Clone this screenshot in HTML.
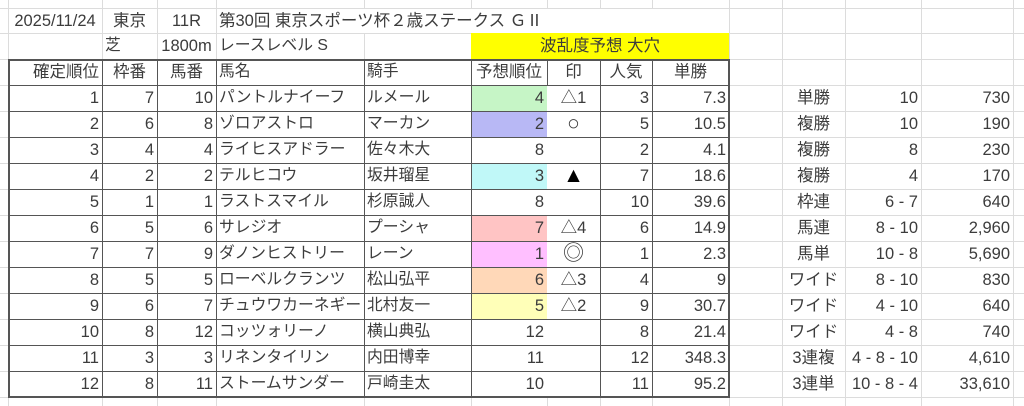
<!DOCTYPE html>
<html><head><meta charset="utf-8"><style>
body{margin:0;width:1024px;height:406px;overflow:hidden;background:#fff;position:relative;font-family:"Liberation Sans","Noto Sans CJK JP",sans-serif;font-size:16.5px;color:#3c3c3c}
.g{position:absolute;background:#dcdcdc}
.d{position:absolute;background:#555}
.c{position:absolute;height:26px;line-height:26px;white-space:nowrap;box-sizing:border-box}
.r{text-align:right;padding-right:3px}
.m{text-align:center}
.l{padding-left:3px;font-size:15.8px}
.f{position:absolute}
.big{font-size:21px}
</style></head><body>
<div class="g" style="left:8px;top:0;width:1px;height:406px"></div>
<div class="g" style="left:102px;top:0;width:1px;height:406px"></div>
<div class="g" style="left:157px;top:0;width:1px;height:406px"></div>
<div class="g" style="left:216px;top:0;width:1px;height:406px"></div>
<div class="g" style="left:364px;top:0;width:1px;height:8px"></div>
<div class="g" style="left:364px;top:33px;width:1px;height:373px"></div>
<div class="g" style="left:471px;top:0;width:1px;height:8px"></div>
<div class="g" style="left:471px;top:59px;width:1px;height:347px"></div>
<div class="g" style="left:547px;top:0;width:1px;height:8px"></div>
<div class="g" style="left:547px;top:397px;width:1px;height:9px"></div>
<div class="g" style="left:600px;top:0;width:1px;height:8px"></div>
<div class="g" style="left:600px;top:59px;width:1px;height:347px"></div>
<div class="g" style="left:652px;top:0;width:1px;height:8px"></div>
<div class="g" style="left:652px;top:59px;width:1px;height:347px"></div>
<div class="g" style="left:729px;top:0;width:1px;height:406px"></div>
<div class="g" style="left:782px;top:0;width:1px;height:406px"></div>
<div class="g" style="left:845px;top:0;width:1px;height:406px"></div>
<div class="g" style="left:921px;top:0;width:1px;height:406px"></div>
<div class="g" style="left:1013px;top:0;width:1px;height:406px"></div>
<div class="g" style="left:0;top:8px;width:1024px;height:1px"></div>
<div class="g" style="left:0;top:33px;width:1024px;height:1px"></div>
<div class="g" style="left:0;top:59px;width:1024px;height:1px"></div>
<div class="g" style="left:0;top:85px;width:1024px;height:1px"></div>
<div class="g" style="left:0;top:111px;width:1024px;height:1px"></div>
<div class="g" style="left:0;top:137px;width:1024px;height:1px"></div>
<div class="g" style="left:0;top:163px;width:1024px;height:1px"></div>
<div class="g" style="left:0;top:189px;width:1024px;height:1px"></div>
<div class="g" style="left:0;top:215px;width:1024px;height:1px"></div>
<div class="g" style="left:0;top:241px;width:1024px;height:1px"></div>
<div class="g" style="left:0;top:267px;width:1024px;height:1px"></div>
<div class="g" style="left:0;top:293px;width:1024px;height:1px"></div>
<div class="g" style="left:0;top:319px;width:1024px;height:1px"></div>
<div class="g" style="left:0;top:345px;width:1024px;height:1px"></div>
<div class="g" style="left:0;top:371px;width:1024px;height:1px"></div>
<div class="g" style="left:0;top:397px;width:1024px;height:1px"></div>
<div class="f" style="left:217px;top:9px;width:512px;height:24px;background:#fff"></div>
<div class="f" style="left:9px;top:34px;width:93px;height:25px;background:#fff"></div>
<div class="f" style="left:471px;top:33px;width:258px;height:26px;background:#ffff00"></div>
<div class="f" style="left:471px;top:85px;width:76px;height:26px;background:#c6f5c6"></div>
<div class="f" style="left:471px;top:111px;width:76px;height:26px;background:#b8b8f5"></div>
<div class="f" style="left:471px;top:163px;width:76px;height:26px;background:#c0f8f8"></div>
<div class="f" style="left:471px;top:215px;width:76px;height:26px;background:#ffc4c4"></div>
<div class="f" style="left:471px;top:241px;width:76px;height:26px;background:#ffbfff"></div>
<div class="f" style="left:471px;top:267px;width:76px;height:26px;background:#ffd8b8"></div>
<div class="f" style="left:471px;top:293px;width:76px;height:26px;background:#ffffb8"></div>
<div class="d" style="left:8px;top:59px;width:722px;height:2px"></div>
<div class="d" style="left:8px;top:396px;width:722px;height:2px"></div>
<div class="d" style="left:8px;top:85px;width:721px;height:1px"></div>
<div class="d" style="left:8px;top:111px;width:721px;height:1px"></div>
<div class="d" style="left:8px;top:137px;width:721px;height:1px"></div>
<div class="d" style="left:8px;top:163px;width:721px;height:1px"></div>
<div class="d" style="left:8px;top:189px;width:721px;height:1px"></div>
<div class="d" style="left:8px;top:215px;width:721px;height:1px"></div>
<div class="d" style="left:8px;top:241px;width:721px;height:1px"></div>
<div class="d" style="left:8px;top:267px;width:721px;height:1px"></div>
<div class="d" style="left:8px;top:293px;width:721px;height:1px"></div>
<div class="d" style="left:8px;top:319px;width:721px;height:1px"></div>
<div class="d" style="left:8px;top:345px;width:721px;height:1px"></div>
<div class="d" style="left:8px;top:371px;width:721px;height:1px"></div>
<div class="d" style="left:8px;top:59px;width:2px;height:339px"></div>
<div class="d" style="left:102px;top:59px;width:1px;height:339px"></div>
<div class="d" style="left:157px;top:59px;width:1px;height:339px"></div>
<div class="d" style="left:216px;top:59px;width:1px;height:339px"></div>
<div class="d" style="left:364px;top:59px;width:1px;height:339px"></div>
<div class="d" style="left:471px;top:59px;width:1px;height:339px"></div>
<div class="d" style="left:547px;top:59px;width:1px;height:26px"></div>
<div class="d" style="left:600px;top:59px;width:1px;height:339px"></div>
<div class="d" style="left:652px;top:59px;width:1px;height:339px"></div>
<div class="d" style="left:728px;top:59px;width:2px;height:339px"></div>

<div class="c m" style="left:8px;top:8px;width:94px">2025/11/24</div>
<div class="c m" style="left:102px;top:8px;width:55px">東京</div>
<div class="c m" style="left:157px;top:8px;width:59px">11R</div>
<div class="c" style="left:216px;top:8px;width:400px;padding-left:3px">第30回 東京スポーツ杯２歳ステークス ＧⅡ</div>
<div class="c l" style="left:102px;top:33px;width:55px">芝</div>
<div class="c m" style="left:157px;top:33px;width:59px">1800m</div>
<div class="c l" style="left:216px;top:33px;width:148px">レースレベル S</div>
<div class="c m" style="left:471px;top:33px;width:258px">波乱度予想 大穴</div>
<div class="c r" style="left:8px;top:59px;width:94px">確定順位</div>
<div class="c m" style="left:102px;top:59px;width:55px">枠番</div>
<div class="c m" style="left:157px;top:59px;width:59px">馬番</div>
<div class="c l" style="left:216px;top:59px;width:148px">馬名</div>
<div class="c l" style="left:364px;top:59px;width:107px">騎手</div>
<div class="c m" style="left:471px;top:59px;width:76px">予想順位</div>
<div class="c m" style="left:547px;top:59px;width:53px">印</div>
<div class="c m" style="left:600px;top:59px;width:52px">人気</div>
<div class="c m" style="left:652px;top:59px;width:77px">単勝</div>

<div class="c r" style="left:8px;top:85px;width:94px">1</div><div class="c r" style="left:102px;top:85px;width:55px">7</div><div class="c r" style="left:157px;top:85px;width:59px">10</div><div class="c l" style="left:216px;top:85px;width:148px">パントルナイーフ</div><div class="c l" style="left:364px;top:85px;width:107px">ルメール</div><div class="c r" style="left:471px;top:85px;width:76px">4</div><div class="c m" style="left:547px;top:85px;width:53px">△1</div><div class="c r" style="left:600px;top:85px;width:52px">3</div><div class="c r" style="left:652px;top:85px;width:77px">7.3</div>
<div class="c r" style="left:8px;top:111px;width:94px">2</div><div class="c r" style="left:102px;top:111px;width:55px">6</div><div class="c r" style="left:157px;top:111px;width:59px">8</div><div class="c l" style="left:216px;top:111px;width:148px">ゾロアストロ</div><div class="c l" style="left:364px;top:111px;width:107px">マーカン</div><div class="c r" style="left:471px;top:111px;width:76px">2</div><div class="c m big" style="left:547px;top:111px;width:53px">○</div><div class="c r" style="left:600px;top:111px;width:52px">5</div><div class="c r" style="left:652px;top:111px;width:77px">10.5</div>
<div class="c r" style="left:8px;top:137px;width:94px">3</div><div class="c r" style="left:102px;top:137px;width:55px">4</div><div class="c r" style="left:157px;top:137px;width:59px">4</div><div class="c l" style="left:216px;top:137px;width:148px">ライヒスアドラー</div><div class="c l" style="left:364px;top:137px;width:107px">佐々木大</div><div class="c r" style="left:471px;top:137px;width:76px">8</div><div class="c r" style="left:600px;top:137px;width:52px">2</div><div class="c r" style="left:652px;top:137px;width:77px">4.1</div>
<div class="c r" style="left:8px;top:163px;width:94px">4</div><div class="c r" style="left:102px;top:163px;width:55px">2</div><div class="c r" style="left:157px;top:163px;width:59px">2</div><div class="c l" style="left:216px;top:163px;width:148px">テルヒコウ</div><div class="c l" style="left:364px;top:163px;width:107px">坂井瑠星</div><div class="c r" style="left:471px;top:163px;width:76px">3</div><div class="c m big" style="left:547px;top:163px;width:53px;color:#000">▲</div><div class="c r" style="left:600px;top:163px;width:52px">7</div><div class="c r" style="left:652px;top:163px;width:77px">18.6</div>
<div class="c r" style="left:8px;top:189px;width:94px">5</div><div class="c r" style="left:102px;top:189px;width:55px">1</div><div class="c r" style="left:157px;top:189px;width:59px">1</div><div class="c l" style="left:216px;top:189px;width:148px">ラストスマイル</div><div class="c l" style="left:364px;top:189px;width:107px">杉原誠人</div><div class="c r" style="left:471px;top:189px;width:76px">8</div><div class="c r" style="left:600px;top:189px;width:52px">10</div><div class="c r" style="left:652px;top:189px;width:77px">39.6</div>
<div class="c r" style="left:8px;top:215px;width:94px">6</div><div class="c r" style="left:102px;top:215px;width:55px">5</div><div class="c r" style="left:157px;top:215px;width:59px">6</div><div class="c l" style="left:216px;top:215px;width:148px">サレジオ</div><div class="c l" style="left:364px;top:215px;width:107px">プーシャ</div><div class="c r" style="left:471px;top:215px;width:76px">7</div><div class="c m" style="left:547px;top:215px;width:53px">△4</div><div class="c r" style="left:600px;top:215px;width:52px">6</div><div class="c r" style="left:652px;top:215px;width:77px">14.9</div>
<div class="c r" style="left:8px;top:241px;width:94px">7</div><div class="c r" style="left:102px;top:241px;width:55px">7</div><div class="c r" style="left:157px;top:241px;width:59px">9</div><div class="c l" style="left:216px;top:241px;width:148px">ダノンヒストリー</div><div class="c l" style="left:364px;top:241px;width:107px">レーン</div><div class="c r" style="left:471px;top:241px;width:76px">1</div><div class="c m big" style="left:547px;top:241px;width:53px">◎</div><div class="c r" style="left:600px;top:241px;width:52px">1</div><div class="c r" style="left:652px;top:241px;width:77px">2.3</div>
<div class="c r" style="left:8px;top:267px;width:94px">8</div><div class="c r" style="left:102px;top:267px;width:55px">5</div><div class="c r" style="left:157px;top:267px;width:59px">5</div><div class="c l" style="left:216px;top:267px;width:148px">ローベルクランツ</div><div class="c l" style="left:364px;top:267px;width:107px">松山弘平</div><div class="c r" style="left:471px;top:267px;width:76px">6</div><div class="c m" style="left:547px;top:267px;width:53px">△3</div><div class="c r" style="left:600px;top:267px;width:52px">4</div><div class="c r" style="left:652px;top:267px;width:77px">9</div>
<div class="c r" style="left:8px;top:293px;width:94px">9</div><div class="c r" style="left:102px;top:293px;width:55px">6</div><div class="c r" style="left:157px;top:293px;width:59px">7</div><div class="c l" style="left:216px;top:293px;width:148px">チュウワカーネギー</div><div class="c l" style="left:364px;top:293px;width:107px">北村友一</div><div class="c r" style="left:471px;top:293px;width:76px">5</div><div class="c m" style="left:547px;top:293px;width:53px">△2</div><div class="c r" style="left:600px;top:293px;width:52px">9</div><div class="c r" style="left:652px;top:293px;width:77px">30.7</div>
<div class="c r" style="left:8px;top:319px;width:94px">10</div><div class="c r" style="left:102px;top:319px;width:55px">8</div><div class="c r" style="left:157px;top:319px;width:59px">12</div><div class="c l" style="left:216px;top:319px;width:148px">コッツォリーノ</div><div class="c l" style="left:364px;top:319px;width:107px">横山典弘</div><div class="c r" style="left:471px;top:319px;width:76px">12</div><div class="c r" style="left:600px;top:319px;width:52px">8</div><div class="c r" style="left:652px;top:319px;width:77px">21.4</div>
<div class="c r" style="left:8px;top:345px;width:94px">11</div><div class="c r" style="left:102px;top:345px;width:55px">3</div><div class="c r" style="left:157px;top:345px;width:59px">3</div><div class="c l" style="left:216px;top:345px;width:148px">リネンタイリン</div><div class="c l" style="left:364px;top:345px;width:107px">内田博幸</div><div class="c r" style="left:471px;top:345px;width:76px">11</div><div class="c r" style="left:600px;top:345px;width:52px">12</div><div class="c r" style="left:652px;top:345px;width:77px">348.3</div>
<div class="c r" style="left:8px;top:371px;width:94px">12</div><div class="c r" style="left:102px;top:371px;width:55px">8</div><div class="c r" style="left:157px;top:371px;width:59px">11</div><div class="c l" style="left:216px;top:371px;width:148px">ストームサンダー</div><div class="c l" style="left:364px;top:371px;width:107px">戸崎圭太</div><div class="c r" style="left:471px;top:371px;width:76px">10</div><div class="c r" style="left:600px;top:371px;width:52px">11</div><div class="c r" style="left:652px;top:371px;width:77px">95.2</div>

<div class="c m" style="left:782px;top:85px;width:63px">単勝</div><div class="c r" style="left:845px;top:85px;width:76px">10</div><div class="c r" style="left:921px;top:85px;width:92px">730</div>
<div class="c m" style="left:782px;top:111px;width:63px">複勝</div><div class="c r" style="left:845px;top:111px;width:76px">10</div><div class="c r" style="left:921px;top:111px;width:92px">190</div>
<div class="c m" style="left:782px;top:137px;width:63px">複勝</div><div class="c r" style="left:845px;top:137px;width:76px">8</div><div class="c r" style="left:921px;top:137px;width:92px">230</div>
<div class="c m" style="left:782px;top:163px;width:63px">複勝</div><div class="c r" style="left:845px;top:163px;width:76px">4</div><div class="c r" style="left:921px;top:163px;width:92px">170</div>
<div class="c m" style="left:782px;top:189px;width:63px">枠連</div><div class="c r" style="left:845px;top:189px;width:76px">6 - 7</div><div class="c r" style="left:921px;top:189px;width:92px">640</div>
<div class="c m" style="left:782px;top:215px;width:63px">馬連</div><div class="c r" style="left:845px;top:215px;width:76px">8 - 10</div><div class="c r" style="left:921px;top:215px;width:92px">2,960</div>
<div class="c m" style="left:782px;top:241px;width:63px">馬単</div><div class="c r" style="left:845px;top:241px;width:76px">10 - 8</div><div class="c r" style="left:921px;top:241px;width:92px">5,690</div>
<div class="c m" style="left:782px;top:267px;width:63px">ワイド</div><div class="c r" style="left:845px;top:267px;width:76px">8 - 10</div><div class="c r" style="left:921px;top:267px;width:92px">830</div>
<div class="c m" style="left:782px;top:293px;width:63px">ワイド</div><div class="c r" style="left:845px;top:293px;width:76px">4 - 10</div><div class="c r" style="left:921px;top:293px;width:92px">640</div>
<div class="c m" style="left:782px;top:319px;width:63px">ワイド</div><div class="c r" style="left:845px;top:319px;width:76px">4 - 8</div><div class="c r" style="left:921px;top:319px;width:92px">740</div>
<div class="c m" style="left:782px;top:345px;width:63px">3連複</div><div class="c r" style="left:845px;top:345px;width:76px">4 - 8 - 10</div><div class="c r" style="left:921px;top:345px;width:92px">4,610</div>
<div class="c m" style="left:782px;top:371px;width:63px">3連単</div><div class="c r" style="left:845px;top:371px;width:76px">10 - 8 - 4</div><div class="c r" style="left:921px;top:371px;width:92px">33,610</div>
</body></html>
